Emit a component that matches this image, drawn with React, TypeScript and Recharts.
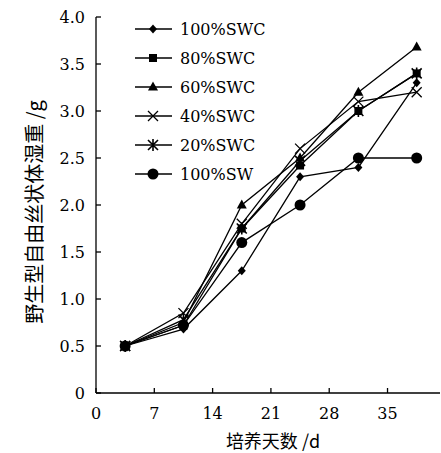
import React from 'react';
import { LineChart, Line, XAxis, YAxis, Legend } from 'recharts';

// sampling days
const days = [3.5, 10.5, 17.5, 24.5, 31.5, 38.5];

const swc100 = [0.5, 0.68, 1.3, 2.3, 2.4, 3.3];
const swc80 = [0.5, 0.72, 1.75, 2.42, 3.0, 3.4];
const swc60 = [0.5, 0.75, 2.0, 2.5, 3.2, 3.68];
const swc40 = [0.5, 0.85, 1.8, 2.6, 3.1, 3.2];
const swc20 = [0.5, 0.78, 1.75, 2.47, 3.0, 3.4];
const sw100 = [0.5, 0.72, 1.6, 2.0, 2.5, 2.5];

const xTicks = [0, 7, 14, 21, 28, 35];
const yTicks = [0, 0.5, 1, 1.5, 2, 2.5, 3, 3.5, 4];

const seriesList = [
  { key: 'swc100', name: '100%SWC', shape: 'diamond', values: swc100 },
  { key: 'swc80', name: '80%SWC', shape: 'square', values: swc80 },
  { key: 'swc60', name: '60%SWC', shape: 'triangle', values: swc60 },
  { key: 'swc40', name: '40%SWC', shape: 'cross', values: swc40 },
  { key: 'swc20', name: '20%SWC', shape: 'star', values: swc20 },
  { key: 'sw100', name: '100%SW', shape: 'circle', values: sw100 },
];

const chartData = days.map((d, i) => {
  const row: any = { day: d };
  seriesList.forEach((s) => {
    row[s.key] = s.values[i];
  });
  return row;
});

const SERIF = '"DejaVu Serif", "Liberation Serif", serif';
const CJK = '"Noto Sans CJK SC", sans-serif';

function Marker({ shape, cx, cy }: { shape: string; cx: number; cy: number }) {
  if (cx == null || cy == null) return null;
  switch (shape) {
    case 'diamond':
      return <path d={`M${cx},${cy - 4.5} L${cx + 4},${cy} L${cx},${cy + 4.5} L${cx - 4},${cy} Z`} fill="#000" />;
    case 'square':
      return <rect x={cx - 4} y={cy - 4} width={8} height={8} fill="#000" />;
    case 'triangle':
      return <path d={`M${cx},${cy - 5.5} L${cx + 5},${cy + 3.5} L${cx - 5},${cy + 3.5} Z`} fill="#000" />;
    case 'cross':
      return (
        <path
          d={`M${cx - 5},${cy - 5} L${cx + 5},${cy + 5} M${cx - 5},${cy + 5} L${cx + 5},${cy - 5}`}
          stroke="#000"
          strokeWidth={1.3}
          fill="none"
        />
      );
    case 'star':
      return (
        <path
          d={`M${cx - 5},${cy - 5} L${cx + 5},${cy + 5} M${cx - 5},${cy + 5} L${cx + 5},${cy - 5} M${cx},${cy - 6} L${cx},${cy + 6}`}
          stroke="#000"
          strokeWidth={1.6}
          fill="none"
        />
      );
    default:
      return <circle cx={cx} cy={cy} r={5.5} fill="#000" />;
  }
}

function LegendBox() {
  return (
    <svg width={130} height={180} style={{ display: 'block' }}>
      {seriesList.map((s, i) => {
        const y = 12 + i * 29;
        return (
          <g key={s.key}>
            <line x1={0} x2={37} y1={y} y2={y} stroke="#000" strokeWidth={1.3} />
            <Marker shape={s.shape} cx={18} cy={y} />
            <text x={45} y={y} dominantBaseline="central" fontFamily={SERIF} fontSize={16} fill="#000">
              {s.name}
            </text>
          </g>
        );
      })}
    </svg>
  );
}

export default function App() {
  return (
    <div style={{ position: 'absolute', left: 0, top: 0, background: '#fff' }}>
      <LineChart width={441} height={453} data={chartData} margin={{ top: 17, right: 1, left: 16, bottom: 0 }}>
        <XAxis
          dataKey="day"
          type="number"
          domain={[0, 41.3]}
          ticks={xTicks}
          allowDataOverflow
          height={60}
          stroke="#000"
          strokeWidth={1.3}
          tickSize={-5}
          tickMargin={20}
          tick={{ fill: '#000', fontFamily: SERIF, fontSize: 16 }}
          label={({ viewBox }: any) => (
            <text
              x={viewBox.x + viewBox.width / 2 + 5}
              y={440}
              textAnchor="middle"
              dominantBaseline="central"
              fontFamily={CJK}
              fontSize={18}
              fill="#000"
            >
              培养天数 /d
            </text>
          )}
        />
        <YAxis
          type="number"
          domain={[0, 4]}
          ticks={yTicks}
          width={80}
          stroke="#000"
          strokeWidth={1.3}
          tickSize={-5}
          tickMargin={16}
          tickFormatter={(v: number) => (v === 0 ? '0' : v.toFixed(1))}
          tick={{ fill: '#000', fontFamily: SERIF, fontSize: 16 }}
          label={({ viewBox }: any) => {
            const cx = viewBox.x + 17;
            const cy = 212;
            return (
              <text
                x={cx}
                y={cy}
                transform={`rotate(-90, ${cx}, ${cy})`}
                textAnchor="middle"
                dominantBaseline="central"
                fontFamily={CJK}
                fontSize={20}
                fill="#000"
              >
                野生型自由丝状体湿重 /g
              </text>
            );
          }}
        />
        <Legend
          layout="vertical"
          verticalAlign="middle"
          align="center"
          wrapperStyle={{ position: 'absolute', top: 17, left: 135, width: 130 }}
          content={() => <LegendBox />}
        />
        {seriesList.map((s) => (
          <Line
            key={s.key}
            dataKey={s.key}
            name={s.name}
            type="linear"
            stroke="#000"
            strokeWidth={1.3}
            isAnimationActive={false}
            dot={(p: any) => <Marker key={`${s.key}-${p.index}`} shape={s.shape} cx={p.cx} cy={p.cy} />}
            activeDot={false}
          />
        ))}
      </LineChart>
    </div>
  );
}
